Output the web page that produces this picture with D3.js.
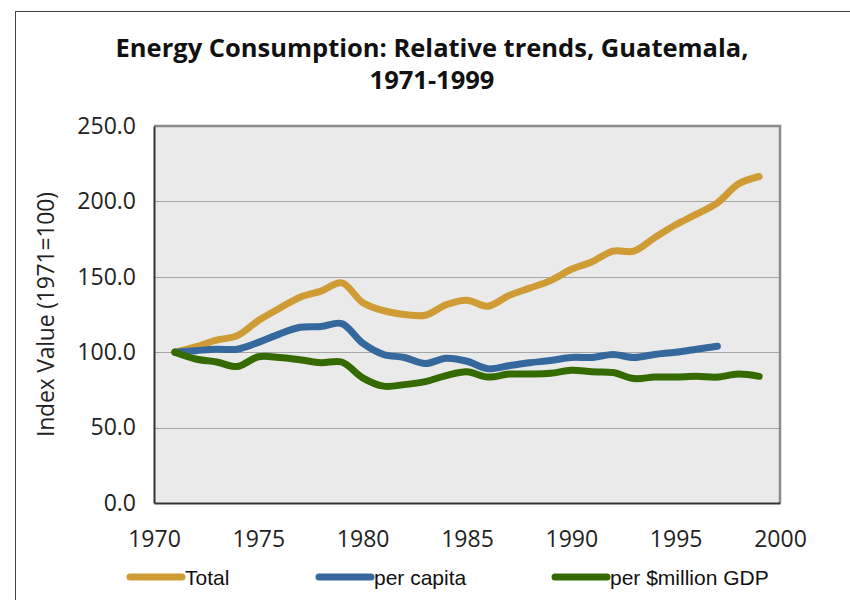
<!DOCTYPE html>
<html>
<head>
<meta charset="utf-8">
<script src="https://cdn.jsdelivr.net/npm/d3@7"></script>
<style>
  body { margin: 0; background: #fff; }
</style>
</head>
<body>
<div id="chart"></div>
<script>
// Años y series (índice 1971 = 100)
const years = d3.range(1971, 2000);
const total = [100, 103.5, 108, 111, 121, 129, 136.5, 140.5, 146, 133, 127.5, 125, 124.5, 131.5, 134.5, 130.5, 137.5, 142.5, 147.5, 155, 160, 167, 167, 176, 184.5, 191.5, 199, 211.5, 216.5];
const perCapita = [100, 101, 102, 102, 106.5, 112, 116.5, 117, 119, 106, 98.5, 96.5, 92.5, 96, 94, 89, 91, 93, 94.5, 96.5, 96.5, 98.5, 96.5, 98.5, 100, 102, 104];
const perGdp = [100, 95.5, 93.5, 90.5, 97, 96.5, 95, 93, 93.5, 83, 77.5, 78.5, 80.5, 84.5, 87, 83.5, 85.5, 85.5, 86, 88, 87, 86.5, 82.5, 83.5, 83.5, 84, 83.5, 85.5, 84];
const yTicks = [0, 50, 100, 150, 200, 250];
const xTicks = [1970, 1975, 1980, 1985, 1990, 1995, 2000];

const series = [
  { name: 'Total', values: total, color: '#cf9b35' },
  { name: 'per capita', values: perCapita, color: '#35689c' },
  { name: 'per $million GDP', values: perGdp, color: '#356a00' }
];

const width = 850;
const height = 600;
const margin = { top: 126, right: 70, bottom: 97, left: 154 };

const svg = d3.select('#chart')
  .append('svg')
  .attr('width', width)
  .attr('height', height);

// Marco exterior
svg.append('rect')
  .attr('x', 15.5).attr('y', 11.5)
  .attr('width', 900).attr('height', 700)
  .attr('fill', 'none')
  .attr('stroke', '#444')
  .attr('stroke-width', 1);

const x = d3.scaleLinear()
  .domain([1970, 2000])
  .range([margin.left, width - margin.right]);

const y = d3.scaleLinear()
  .domain([0, 250])
  .range([height - margin.bottom, margin.top]);

// Fondo del área de trazado
svg.append('rect')
  .attr('x', x(1970)).attr('y', y(250))
  .attr('width', x(2000) - x(1970))
  .attr('height', y(0) - y(250))
  .attr('fill', '#eaeaea');

// Líneas de cuadrícula
svg.append('g')
  .selectAll('line')
  .data(yTicks.filter(d => d > 0 && d < 250))
  .enter()
  .append('line')
  .attr('x1', x(1970)).attr('x2', x(2000))
  .attr('y1', d => Math.round(y(d)) + 0.5)
  .attr('y2', d => Math.round(y(d)) + 0.5)
  .attr('stroke', '#a6a6a6')
  .attr('stroke-width', 1);

// Borde del área de trazado (arriba y derecha)
svg.append('path')
  .attr('d', `M${x(1970)},${y(250)}H${x(2000)}V${y(0)}`)
  .attr('fill', 'none')
  .attr('stroke', '#8c8c8c')
  .attr('stroke-width', 2.5);

// Ejes
const yAxis = svg.append('g')
  .attr('transform', `translate(${x(1970)}, 0)`)
  .call(d3.axisLeft(y).tickValues(yTicks).tickFormat(d3.format('.1f')).tickSize(0).tickPadding(18));

const xAxis = svg.append('g')
  .attr('transform', `translate(0, ${y(0)})`)
  .call(d3.axisBottom(x).tickValues(xTicks).tickFormat(d3.format('d')).tickSize(0).tickPadding(28));

[yAxis, xAxis].forEach(g => {
  g.select('.domain').attr('stroke', '#333').attr('stroke-width', 2);
  g.selectAll('text')
    .attr('font-family', '"Open Sans", sans-serif')
    .attr('font-size', 23)
    .attr('fill', '#222');
});

// Series
const line = d3.line()
  .x((d, i) => x(years[i]))
  .y(d => y(d))
  .curve(d3.curveCatmullRom.alpha(0.5));

svg.append('g')
  .selectAll('path')
  .data(series)
  .enter()
  .append('path')
  .attr('d', d => line(d.values))
  .attr('fill', 'none')
  .attr('stroke', d => d.color)
  .attr('stroke-width', 7)
  .attr('stroke-linecap', 'round')
  .attr('stroke-linejoin', 'round');

// Título
const title = svg.append('text')
  .attr('text-anchor', 'middle')
  .attr('font-family', '"Open Sans", sans-serif')
  .attr('font-weight', 'bold')
  .attr('font-size', 25.5)
  .attr('fill', '#111');
title.append('tspan').attr('x', 432).attr('y', 57).text('Energy Consumption: Relative trends, Guatemala,');
title.append('tspan').attr('x', 432).attr('y', 89).text('1971-1999');

// Etiqueta del eje Y
svg.append('text')
  .attr('transform', `translate(54, ${(y(0) + y(250)) / 2}) rotate(-90)`)
  .attr('text-anchor', 'middle')
  .attr('font-family', '"Open Sans", sans-serif')
  .attr('font-size', 23)
  .attr('textLength', 245)
  .attr('lengthAdjust', 'spacing')
  .attr('fill', '#222')
  .text('Index Value (1971=100)');

// Leyenda
const legendX = [130, 319, 555];
const legend = svg.append('g')
  .selectAll('g')
  .data(series)
  .enter()
  .append('g')
  .attr('transform', (d, i) => `translate(${legendX[i]}, 577)`);

legend.append('line')
  .attr('x1', 0).attr('x2', 52)
  .attr('stroke', d => d.color)
  .attr('stroke-width', 7)
  .attr('stroke-linecap', 'round');

legend.append('text')
  .attr('x', 55)
  .attr('y', 8)
  .attr('font-family', '"Liberation Sans", Arial, sans-serif')
  .attr('font-size', 21)
  .attr('fill', '#111')
  .text(d => d.name);
</script>
</body>
</html>
